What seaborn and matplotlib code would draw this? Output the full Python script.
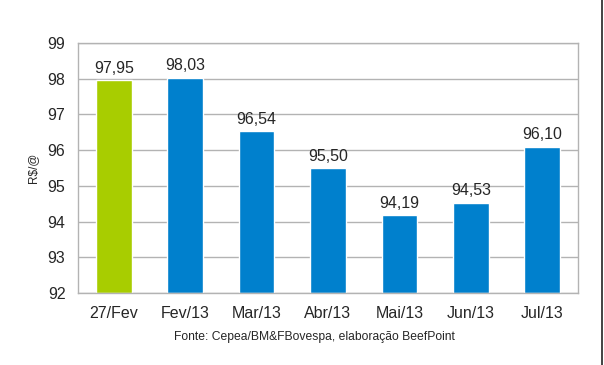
import numpy as np
import pandas as pd
import matplotlib.pyplot as plt
import seaborn as sns
from matplotlib.lines import Line2D

# ---- data ----
meses = ["27/Fev", "Fev/13", "Mar/13", "Abr/13", "Mai/13", "Jun/13", "Jul/13"]
precos = [97.95, 98.03, 96.54, 95.50, 94.19, 94.53, 96.10]
cores = ["#a8cd00", "#0080cd", "#0080cd", "#0080cd", "#0080cd", "#0080cd", "#0080cd"]

df = pd.DataFrame({"mes": meses, "preco": precos})

sns.set_style("white")
plt.rcParams["font.family"] = ["Liberation Sans", "DejaVu Sans"]

fig = plt.figure(figsize=(6.04, 3.65), dpi=100)
ax = fig.add_axes([78 / 604, 1 - 293 / 365, 500 / 604, 250 / 365])

# bars start at the axis floor (92), not at zero
base = 92
df["altura"] = df["preco"] - base
sns.barplot(data=df, x="mes", y="altura", hue="mes", palette=cores,
            width=0.5, legend=False, ax=ax, bottom=base, saturation=1)

ax.set_ylim(92, 99)
ax.set_xlim(-0.5, len(meses) - 0.5)
ax.set_yticks(range(92, 100))
ax.yaxis.grid(True, color="#b3b3b3", linewidth=1)
ax.set_axisbelow(True)

for s in ax.spines.values():
    s.set_color("#b3b3b3")
    s.set_linewidth(1)

ax.tick_params(axis="y", length=5, color="#b3b3b3", labelsize=11.5, pad=4)
ax.tick_params(axis="x", which="major", length=0, labelsize=11.5, pad=9)
ax.set_xticks(np.arange(-0.5, len(meses)), minor=True)
ax.tick_params(axis="x", which="minor", length=5, color="#b3b3b3")

for i, v in enumerate(precos):
    ax.text(i, v + 0.12, f"{v:.2f}".replace(".", ","), ha="center", va="bottom",
            fontsize=11.5)

ax.set_xlabel("")
ax.set_ylabel("")
fig.text(33 / 604, 1 - 168 / 365, "R$/@", rotation=90, ha="center", va="center",
         fontsize=8.5)
fig.text(314 / 604, 1 - 337 / 365, "Fonte: Cepea/BM&FBovespa, elaboração BeefPoint",
         ha="center", va="center", fontsize=8.7)

# thin dark border on the right edge
fig.add_artist(Line2D([602 / 604, 602 / 604], [0, 1], color="#222222", linewidth=1.2,
                      transform=fig.transFigure))

fig.savefig("out.png", dpi=100)
